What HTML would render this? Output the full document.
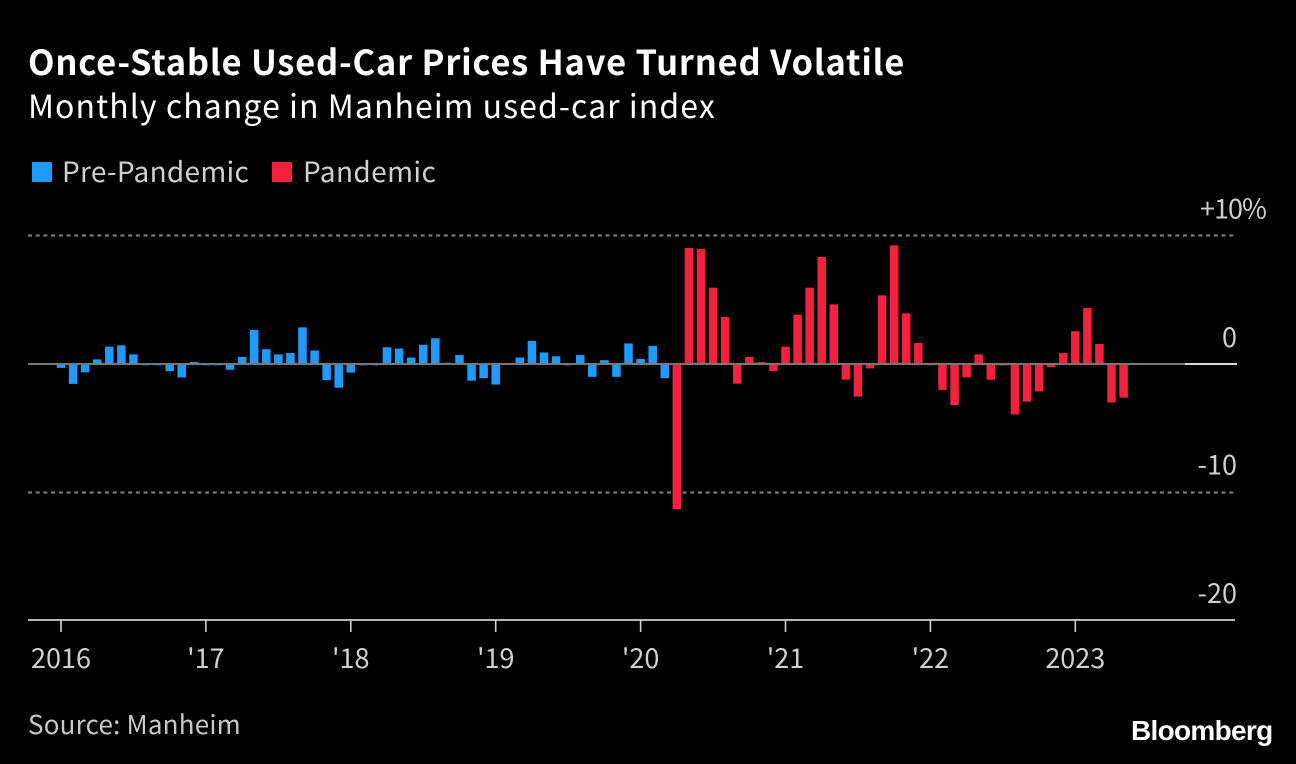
<!DOCTYPE html>
<html lang="en">
<head>
<meta charset="utf-8">
<title>Once-Stable Used-Car Prices Have Turned Volatile</title>
<style>
html,body{margin:0;padding:0;background:#000;}
body{width:1296px;height:764px;overflow:hidden;position:relative;}
svg{position:absolute;left:0;top:0;display:block;}
text{font-family:"Noto Sans CJK JP","Liberation Sans",sans-serif;}
</style>
</head>
<body>
<svg id="chart" width="1296" height="764" viewBox="0 0 1296 764">
  <rect width="1296" height="764" fill="#000"/>
  <text x="28" y="75" font-size="34.5" font-weight="700" letter-spacing="0.78" fill="#fff">Once-Stable Used-Car Prices Have Turned Volatile</text>
  <text x="28" y="118" font-size="32" letter-spacing="1.07" fill="#fff">Monthly change in Manheim used-car index</text>
  <rect x="32" y="162" width="20" height="20" fill="#1f9bff"/>
  <text x="62" y="182" font-size="28" letter-spacing="0.27" fill="#d0d0d0">Pre-Pandemic</text>
  <rect x="272" y="162" width="20" height="20" fill="#f2223f"/>
  <text x="303" y="182" font-size="28" letter-spacing="0.4" fill="#d0d0d0">Pandemic</text>
  <g id="grid"></g>
  <g id="bars"></g>
  <g id="axes"></g>
  <text x="28" y="734" font-size="26" letter-spacing="0.2" fill="#c8c8c8">Source: Manheim</text>
  <text x="1131" y="740" font-size="28" font-weight="700" letter-spacing="-0.7" fill="#fff" style="font-family:'Liberation Sans',sans-serif">Bloomberg</text>
</svg>
<script>
const preValues = [-0.3,-1.55,-0.65,0.36,1.35,1.45,0.75,-0.1,-0.1,-0.55,-1.05,0.15,
  -0.1,-0.1,-0.45,0.55,2.65,1.15,0.75,0.85,2.85,1.05,-1.25,-1.85,
  -0.67,-0.1,-0.1,1.3,1.2,0.5,1.5,2.0,0.1,0.7,-1.3,-1.1,
  -1.6,-0.05,0.5,1.8,0.9,0.6,-0.1,0.7,-1.0,0.3,-1.0,1.6,
  0.4,1.4,-1.1];
const pandemicValues = [-11.3,9.03,8.95,5.94,3.66,-1.53,0.55,0.15,-0.55,
  1.35,3.84,5.94,8.33,4.64,-1.22,-2.54,-0.34,5.34,9.23,3.94,1.63,
  -0.1,-2.02,-3.2,-1.04,0.75,-1.22,-0.1,-3.92,-2.93,-2.13,-0.25,0.85,
  2.55,4.36,1.56,-3.0,-2.62];
const yearLabels = ["2016","'17","'18","'19","'20","'21","'22","2023"];
const yTicks = [10,0,-10,-20];
const yLabels = ["+10%","0","-10","-20"];

const NS = "http://www.w3.org/2000/svg";
const xOf = m => 61 + m * 12.075;
const yOf = v => 364 - v * 12.85;
function make(tag, parent, attrs, text) {
  const el = document.createElementNS(NS, tag);
  for (const k in attrs) el.setAttribute(k, attrs[k]);
  if (text !== undefined) el.textContent = text;
  parent.appendChild(el);
  return el;
}
const grid = document.getElementById('grid');
const bars = document.getElementById('bars');
const axes = document.getElementById('axes');

yTicks.forEach((t, i) => {
  if (t === 10 || t === -10) {
    const line = make('line', grid, {x1: 28, x2: 1237, y1: yOf(t), y2: yOf(t), stroke: '#858585', 'stroke-width': 2, 'stroke-dasharray': '4 3.7'});
    
    
  }
  const isTop = t === 10;
  const label = make('text', axes, {
    x: isTop ? 1200 : 1237,
    y: yOf(t) - (t < 0 ? 18 : 17),
    'text-anchor': isTop ? 'start' : 'end',
    'letter-spacing': isTop ? -1 : 0,
    'font-size': 27,
    fill: '#d0d0d0'
  }, yLabels[i]);
  
  
});

const drawBar = (v, m, color, name) => {
  const r = make('rect', bars, {x: xOf(m) - 4.25, width: 8.5, y: Math.min(yOf(v), yOf(0)), height: Math.abs(yOf(v) - yOf(0)), fill: color});
  
  
};
preValues.forEach((v, i) => drawBar(v, i, '#1f9bff', 'pre-pandemic'));
pandemicValues.forEach((v, i) => drawBar(v, preValues.length + i, '#f2223f', 'pandemic'));

const zero = make('line', axes, {x1: 28, x2: 1185, y1: yOf(0), y2: yOf(0), stroke: '#777', 'stroke-width': 2});


const zeroEnd = make('line', axes, {x1: 1185, x2: 1237, y1: yOf(0), y2: yOf(0), stroke: '#d8d8d8', 'stroke-width': 2});


const xAxis = make('line', axes, {x1: 28, x2: 1235, y1: 620, y2: 620, stroke: '#d0d0d0', 'stroke-width': 1.8});



yearLabels.forEach((lab, i) => {
  const x = xOf(i * 12);
  const tick = make('line', axes, {x1: x, x2: x, y1: 620, y2: 632, stroke: '#d0d0d0', 'stroke-width': 1.6});
  
  
  const t = make('text', axes, {x: x, y: 668, 'text-anchor': 'middle', 'font-size': 27, fill: '#d0d0d0'}, lab);
  
  
});
</script>
</body>
</html>
